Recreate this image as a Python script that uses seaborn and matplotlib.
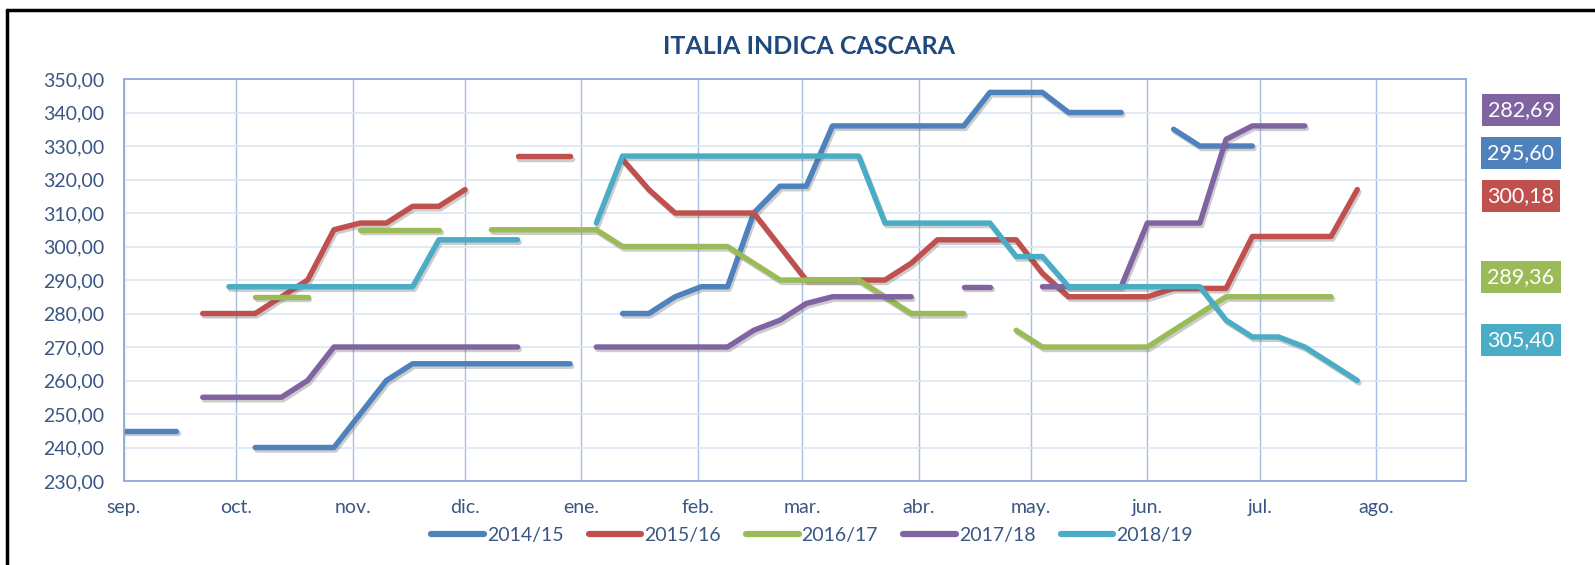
import matplotlib
matplotlib.use("Agg")
import matplotlib.pyplot as plt
import matplotlib.patheffects as pe
import matplotlib.dates as mdates
from matplotlib.lines import Line2D
from matplotlib.ticker import FuncFormatter
import seaborn as sns
import pandas as pd

# --- data (weekly prices, season starting 1 Sep; None = no quote) ---
seasons = ["2014/15", "2015/16", "2016/17", "2017/18", "2018/19"]
colors = ["#4F81BD", "#C0504D", "#9BBB59", "#8064A2", "#4BACC6"]
month_labels = ["sep.", "oct.", "nov.", "dic.", "ene.", "feb.", "mar.",
                "abr.", "may.", "jun.", "jul.", "ago."]
N = None

p_2014_15 = [245, 245, 245, N, N, 240, 240, 240, 240, 250, 260, 265, 265, 265, 265, 265,
             265, 265, N, 280, 280, 285, 288, 288, 310, 318, 318, 336, 336, 336, 336, 336,
             336, 346, 346, 346, 340, 340, 340, N, 335, 330, 330, 330, N, N, N, N]
p_2015_16 = [N, N, N, 280, 280, 280, 285, 290, 305, 307, 307, 312, 312, 317, N, 327,
             327, 327, N, 326, 317, 310, 310, 310, 310, 300, 290, 290, 290, 290, 295, 302,
             302, 302, 302, 292, 285, 285, 285, 285, 287.5, 287.5, 287.5, 303, 303, 303, 303, 317]
p_2016_17 = [N, N, N, N, N, 285, 285, 285, N, 305, 305, 305, 305, N, 305, 305,
             305, 305, 305, 300, 300, 300, 300, 300, 295, 290, 290, 290, 290, 285, 280, 280,
             280, N, 275, 270, 270, 270, 270, 270, 275, 280, 285, 285, 285, 285, 285, N]
p_2017_18 = [N, N, N, 255, 255, 255, 255, 260, 270, 270, 270, 270, 270, 270, 270, 270,
             N, N, 270, 270, 270, 270, 270, 270, 275, 278, 283, 285, 285, 285, 285, N,
             288, 288, N, 288, 288, 288, 288, 307, 307, 307, 332, 336, 336, 336, N, N]
p_2018_19 = [N, N, N, N, 288, 288, 288, 288, 288, 288, 288, 288, 302, 302, 302, 302,
             N, N, 307, 327, 327, 327, 327, 327, 327, 327, 327, 327, 327, 307, 307, 307,
             307, 307, 297, 297, 288, 288, 288, 288, 288, 288, 278, 273, 273, 270, 265, 260]

side_labels = ["282,69", "295,60", "300,18", "289,36", "305,40"]
side_colors = ["#8064A2", "#4F81BD", "#C0504D", "#9BBB59", "#4BACC6"]

# --- long table, one segment id per unbroken run ---
start = pd.Timestamp("2018-09-01")
rows = []
for season, values in zip(seasons, [p_2014_15, p_2015_16, p_2016_17, p_2017_18, p_2018_19]):
    seg = 0
    for week, v in enumerate(values):
        if v is None:
            seg += 1
            continue
        rows.append({"date": start + pd.Timedelta(days=7 * week), "price": v,
                     "season": season, "segment": f"{season}-{seg}"})
df = pd.DataFrame(rows)

sns.set_theme(style="white")
plt.rcParams["font.family"] = ["Lato", "DejaVu Sans"]
text_col = "#3A5683"

fig = plt.figure(figsize=(15.95, 5.65), dpi=100)
ax = fig.add_axes([124 / 1595, 84 / 565, 1342 / 1595, 402 / 565])

sns.lineplot(data=df, x="date", y="price", hue="season", units="segment", estimator=None,
             palette=dict(zip(seasons, colors)), linewidth=3.9, legend=False, ax=ax)
for line in ax.lines:
    line.set_solid_capstyle("round")
    line.set_solid_joinstyle("round")
    line.set_path_effects([pe.SimpleLineShadow(offset=(1.2, -1.8), shadow_color="0.35", alpha=0.3),
                           pe.Normal()])

# axes styling
months = pd.date_range("2018-09-01", "2019-08-01", freq="MS")
ax.set_xlim(mdates.date2num(start), mdates.date2num(pd.Timestamp("2019-08-25")))
ax.set_xticks(mdates.date2num(months))
ax.set_xticklabels(month_labels)
ax.set_ylim(230, 350)
ax.set_yticks(range(230, 351, 10))
ax.yaxis.set_major_formatter(FuncFormatter(lambda v, _: f"{v:.2f}".replace(".", ",")))
ax.set_xlabel("")
ax.set_ylabel("")
ax.grid(axis="y", color="#DCE6F2", lw=1.2)
ax.grid(axis="x", color="#A7BFE0", lw=1.0)
ax.set_axisbelow(True)
for s in ax.spines.values():
    s.set_color("#8EAADB")
    s.set_linewidth(1.3)
ax.tick_params(axis="both", length=0, labelsize=14, colors=text_col)
ax.tick_params(axis="x", pad=13)
ax.tick_params(axis="y", pad=14)

fig.text(809 / 1595, 1 - 47 / 565, "ITALIA INDICA CASCARA", ha="center", va="center",
         fontsize=18, fontweight="bold", color="#1F497D")

handles = [Line2D([], [], color=c, lw=4.5, solid_capstyle="round") for c in colors]
leg = fig.legend(handles, seasons, loc="center", bbox_to_anchor=(812 / 1595, 1 - 535 / 565),
                 ncol=5, frameon=False, fontsize=14, handlelength=2.7, handletextpad=0.15,
                 columnspacing=1.3)
for t in leg.get_texts():
    t.set_color(text_col)

# value boxes on the right
for txt, col, yc in zip(side_labels, side_colors, [110, 153, 196, 277, 340]):
    fig.text(1521 / 1595, 1 - yc / 565, txt, ha="center", va="center", fontsize=15.5,
             color="white", bbox=dict(boxstyle="square,pad=0.28", fc=col, ec="none"))

# black frame (left and top edges visible)
fig.add_artist(Line2D([7 / 1595, 7 / 1595], [0, 1 - 10 / 565], color="black", lw=2.5,
                      transform=fig.transFigure))
fig.add_artist(Line2D([7 / 1595, 1], [1 - 10 / 565, 1 - 10 / 565], color="black", lw=2.5,
                      transform=fig.transFigure))

fig.savefig("out.png", dpi=100)
